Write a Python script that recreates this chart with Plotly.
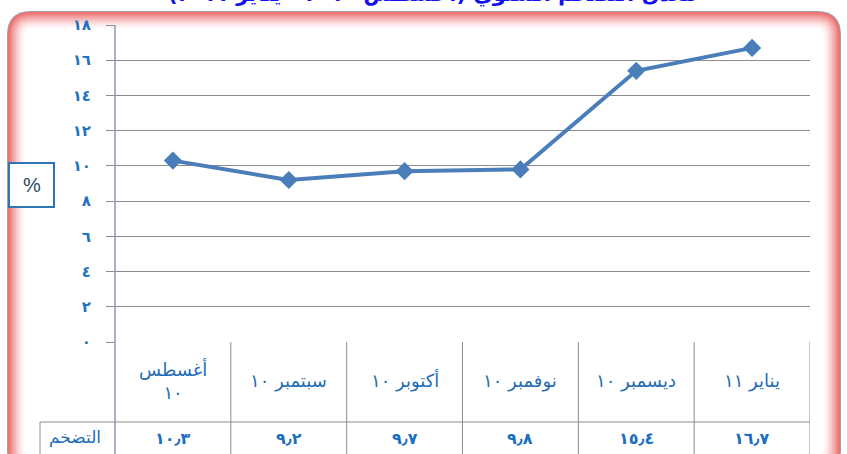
import plotly.graph_objects as go

# ---------------- data ----------------
categories = ["أغسطس<br>١٠", "سبتمبر ١٠", "أكتوبر ١٠", "نوفمبر ١٠", "ديسمبر ١٠", "يناير ١١"]
inflation = [10.3, 9.2, 9.7, 9.8, 15.4, 16.7]
y_ticks = [0, 2, 4, 6, 8, 10, 12, 14, 16, 18]
row_header = "التضخم"
unit_label = "%"
title_text = "معدل التضخم السنوي (أغسطس ٢٠١٠ - يناير ٢٠١١)"

AR_DIGITS = str.maketrans("0123456789.", "٠١٢٣٤٥٦٧٨٩٫")


def ar(v):
    return str(v).translate(AR_DIGITS)


# ---------------- geometry helpers (pixels -> paper) ----------------
W, H = 847, 454
L, R, T, B = 115, 810, 25, 342  # plot area in pixels


def xp(px):
    return (px - L) / (R - L)


def yp(py):
    return (B - py) / (B - T)


def rrect(x0, y0, x1, y1, r):
    pts = [
        f"M {xp(x0 + r)} {yp(y0)}",
        f"L {xp(x1 - r)} {yp(y0)}",
        f"Q {xp(x1)} {yp(y0)} {xp(x1)} {yp(y0 + r)}",
        f"L {xp(x1)} {yp(y1 - r)}",
        f"Q {xp(x1)} {yp(y1)} {xp(x1 - r)} {yp(y1)}",
        f"L {xp(x0 + r)} {yp(y1)}",
        f"Q {xp(x0)} {yp(y1)} {xp(x0)} {yp(y1 - r)}",
        f"L {xp(x0)} {yp(y0 + r)}",
        f"Q {xp(x0)} {yp(y0)} {xp(x0 + r)} {yp(y0)}",
        "Z",
    ]
    return " ".join(pts)


AR_FONT = "DejaVu Sans"
BLUE_TXT = "#1f6cb5"
GRID = "#8c8c8c"

fig = go.Figure()
x_idx = list(range(len(categories)))
fig.add_trace(go.Scatter(
    x=x_idx, y=inflation, mode="lines+markers",
    line=dict(color="#4a7ebb", width=4),
    marker=dict(symbol="diamond", size=14, color="#4a7ebb"),
    hoverinfo="skip", showlegend=False, cliponaxis=False,
))

shapes = []
# frame with pink inner glow
fx0, fy0, fx1, fy1 = 8, 12, 840, 472
shapes.append(dict(type="path", path=rrect(fx0 - 1, fy0 - 1, fx1 + 1, fy1 + 1, 24),
                   xref="paper", yref="paper", fillcolor="#a0a0a0", line=dict(width=0), layer="below"))
glow = [(0, "#ec7474", 23), (2, "#f08a8a", 21), (4, "#f3a0a0", 19), (6, "#f6b5b5", 17),
        (8, "#f9c9c9", 15), (10, "#fbdbdb", 13), (12, "#fdeaea", 11), (14, "#fef6f6", 10),
        (16, "#ffffff", 9)]
for inset, col, rad in glow:
    shapes.append(dict(type="path",
                       path=rrect(fx0 + inset, fy0 + inset, fx1 - inset, fy1 - inset, rad),
                       xref="paper", yref="paper", fillcolor=col, line=dict(width=0), layer="below"))

# y axis line
shapes.append(dict(type="line", xref="paper", yref="paper", x0=0, x1=0, y0=1, y1=yp(470),
                   line=dict(color="#6f7f98", width=1.2)))
# table: vertical separators
for i in range(1, len(categories) + 1):
    shapes.append(dict(type="line", xref="x", yref="paper", x0=i - 0.5, x1=i - 0.5,
                       y0=0, y1=yp(470), line=dict(color="#8c8c8c", width=1)))
# table: horizontal separator between label row and value row
shapes.append(dict(type="line", xref="paper", yref="paper", x0=xp(40), x1=1,
                   y0=yp(422), y1=yp(422), line=dict(color="#8c8c8c", width=1)))
# row header left border
shapes.append(dict(type="line", xref="paper", yref="paper", x0=xp(40), x1=xp(40),
                   y0=yp(422), y1=yp(470), line=dict(color="#8c8c8c", width=1)))
# % box
shapes.append(dict(type="rect", xref="paper", yref="paper", x0=xp(9), x1=xp(54),
                   y0=yp(163), y1=yp(207), line=dict(color="#2f75b5", width=2),
                   fillcolor="white"))

annotations = []
# category labels
for i, c in enumerate(categories):
    annotations.append(dict(x=i, xref="x", y=yp(381), yref="paper", text=c, showarrow=False,
                            font=dict(family=AR_FONT, size=18, color=BLUE_TXT),
                            xanchor="center", yanchor="middle"))
# value row
for i, v in enumerate(inflation):
    annotations.append(dict(x=i, xref="x", y=yp(439), yref="paper", text="<b>" + ar(v) + "</b>",
                            showarrow=False, font=dict(family=AR_FONT, size=16, color="#1a6fc2"),
                            xanchor="center", yanchor="middle"))
annotations.append(dict(x=xp(75), xref="paper", y=yp(438), yref="paper", text=row_header,
                        showarrow=False, font=dict(family=AR_FONT, size=17, color=BLUE_TXT),
                        xanchor="center", yanchor="middle"))
annotations.append(dict(x=xp(31.5), xref="paper", y=yp(185), yref="paper", text=unit_label,
                        showarrow=False, font=dict(family="Liberation Sans", size=20, color="#2b4a6b"),
                        xanchor="center", yanchor="middle"))
annotations.append(dict(x=xp(432), xref="paper", y=yp(9), yref="paper",
                        text="<b>" + title_text + "</b>", showarrow=False,
                        font=dict(family=AR_FONT, size=21, color="#1010f0"),
                        xanchor="center", yanchor="bottom"))

fig.update_layout(
    width=W, height=H,
    margin=dict(l=L, r=W - R, t=T, b=H - B, autoexpand=False),
    paper_bgcolor="white", plot_bgcolor="rgba(0,0,0,0)",
    xaxis=dict(range=[-0.5, len(categories) - 0.5], visible=False, fixedrange=True),
    yaxis=dict(range=[0, 18], tickvals=y_ticks, ticktext=["<b>" + ar(t) + "</b>" for t in y_ticks],
               showgrid=True, gridcolor=GRID, gridwidth=1, zeroline=False, showline=False,
               ticks="outside", ticklen=8, tickcolor=GRID, ticklabelstandoff=12,
               tickfont=dict(family=AR_FONT, size=15, color="#2372bd"), fixedrange=True),
    shapes=shapes, annotations=annotations,
    showlegend=False,
)

fig.write_html("out.html", config={"displayModeBar": False},
               post_script="document.body.style.margin='0';")
